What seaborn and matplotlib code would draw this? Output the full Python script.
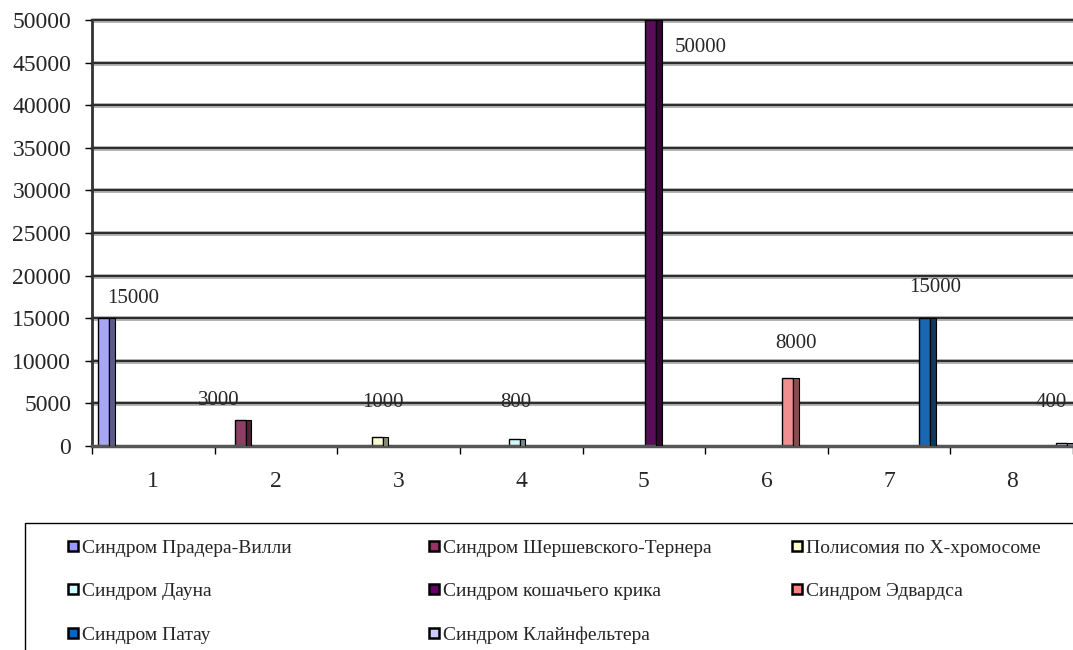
import numpy as np
import pandas as pd
import seaborn as sns
import matplotlib.pyplot as plt
from matplotlib.lines import Line2D
from matplotlib.patches import Rectangle
from matplotlib.colors import to_rgb

CATEGORIES = ["1", "2", "3", "4", "5", "6", "7", "8"]
SERIES = [
    "Синдром Прадера-Вилли",
    "Синдром Шершевского-Тернера",
    "Полисомия по X-хромосоме",
    "Синдром Дауна",
    "Синдром кошачьего крика",
    "Синдром Эдвардса",
    "Синдром Патау",
    "Синдром Клайнфельтера",
]
VALUES = [15000, 3000, 1000, 800, 50000, 8000, 15000, 400]
COLORS = ["#9999FF", "#993366", "#FFFFCC", "#CCFFFF",
          "#660066", "#FF8080", "#0066CC", "#CCCCFF"]
Y_TICKS = list(range(0, 50001, 5000))

# label offsets (pixels) relative to the top centre of each bar
LABEL_OFFSETS = [(30, 20), (-22, 20), (6, 35), (2, 37),
                 (50, -28), (8, 34), (10, 31), (-10, 40)]

# each series only has a value in its own category
df = pd.DataFrame({"cat": CATEGORIES, "series": SERIES, "value": VALUES})

sns.set_style("white")
plt.rcParams["font.family"] = ["Liberation Serif", "DejaVu Serif"]

W, H = 1073, 650
fig = plt.figure(figsize=(W / 100, H / 100), dpi=100)
ax = fig.add_axes([92 / W, 1 - 446 / H, 1 - 92 / W, (446 - 20) / H])

# wall gridlines (drawn first, behind the bars)
for y in Y_TICKS[1:]:
    ax.axhline(y, color="#a8a8a8", lw=3.4, zorder=0, clip_on=False)
    ax.axhline(y, color="#2a2a2a", lw=1.4, zorder=0.5, clip_on=False)

sns.barplot(data=df, x="cat", y="value", hue="series", order=CATEGORIES,
            hue_order=SERIES, palette=COLORS, width=0.93, gap=0.22,
            dodge=True, edgecolor="black", linewidth=1.0, legend=False,
            ax=ax, zorder=2)

# fake 3d: darker right side on every bar, plus data labels
bars = [p for p in ax.patches if p.get_height() > 0]
bars.sort(key=lambda p: p.get_x())
for p, v, (dx, dy) in zip(bars, VALUES, LABEL_OFFSETS):
    x, w, h = p.get_x(), p.get_width(), p.get_height()
    dark = tuple(c * 0.55 for c in to_rgb(p.get_facecolor()))
    ax.add_patch(Rectangle((x + w, 0), w * 0.5, h, facecolor=dark,
                           edgecolor="black", lw=0.8, zorder=3))
    ax.annotate(f"{v}", xy=(x + w * 0.5, h), xytext=(dx, dy),
                textcoords="offset pixels", ha="center", va="center",
                fontsize=15, zorder=4)

ax.set_xlim(-0.5, 7.5)
ax.set_ylim(0, 50000)
ax.set_yticks(Y_TICKS)
ax.set_xlabel("")
ax.set_ylabel("")

ax.set_xticks(range(len(CATEGORIES)))
ax.set_xticklabels(CATEGORIES)
ax.set_xticks(np.arange(-0.5, 8, 1.0), minor=True)
ax.tick_params(axis="x", which="major", length=0, pad=18, labelsize=17)
ax.tick_params(axis="x", which="minor", length=6, width=1, color="black",
               direction="out", bottom=True)
ax.tick_params(axis="y", length=5, width=1, color="black", direction="out",
               pad=10, labelsize=17, left=True)

for side in ["top", "right"]:
    ax.spines[side].set_visible(False)
ax.spines["left"].set_color("#333333")
ax.spines["left"].set_linewidth(2)
ax.spines["bottom"].set_color("#555555")
ax.spines["bottom"].set_linewidth(2.5)

# legend: three columns of equal width, like the original
col_x = [67, 428, 791]
columns = [[0, 3, 6], [1, 4, 7], [2, 5]]
for cx, idx in zip(col_x, columns):
    handles = [Line2D([], [], marker="s", ls="", markersize=7.5,
                      markerfacecolor=COLORS[i], markeredgecolor="black",
                      markeredgewidth=1.8) for i in idx]
    fig.legend(handles, [SERIES[i] for i in idx], loc="upper left",
               bbox_to_anchor=(cx / W, 1 - 539 / H), frameon=False,
               fontsize=14, borderpad=0, borderaxespad=0,
               handlelength=0.6, handletextpad=0.15, labelspacing=1.34)

fig.add_artist(Rectangle((25 / W, -0.1), 1.2, 0.1 + (1 - 523 / H),
                         transform=fig.transFigure, fill=False,
                         edgecolor="black", lw=1))

fig.savefig("out.png", dpi=100)
